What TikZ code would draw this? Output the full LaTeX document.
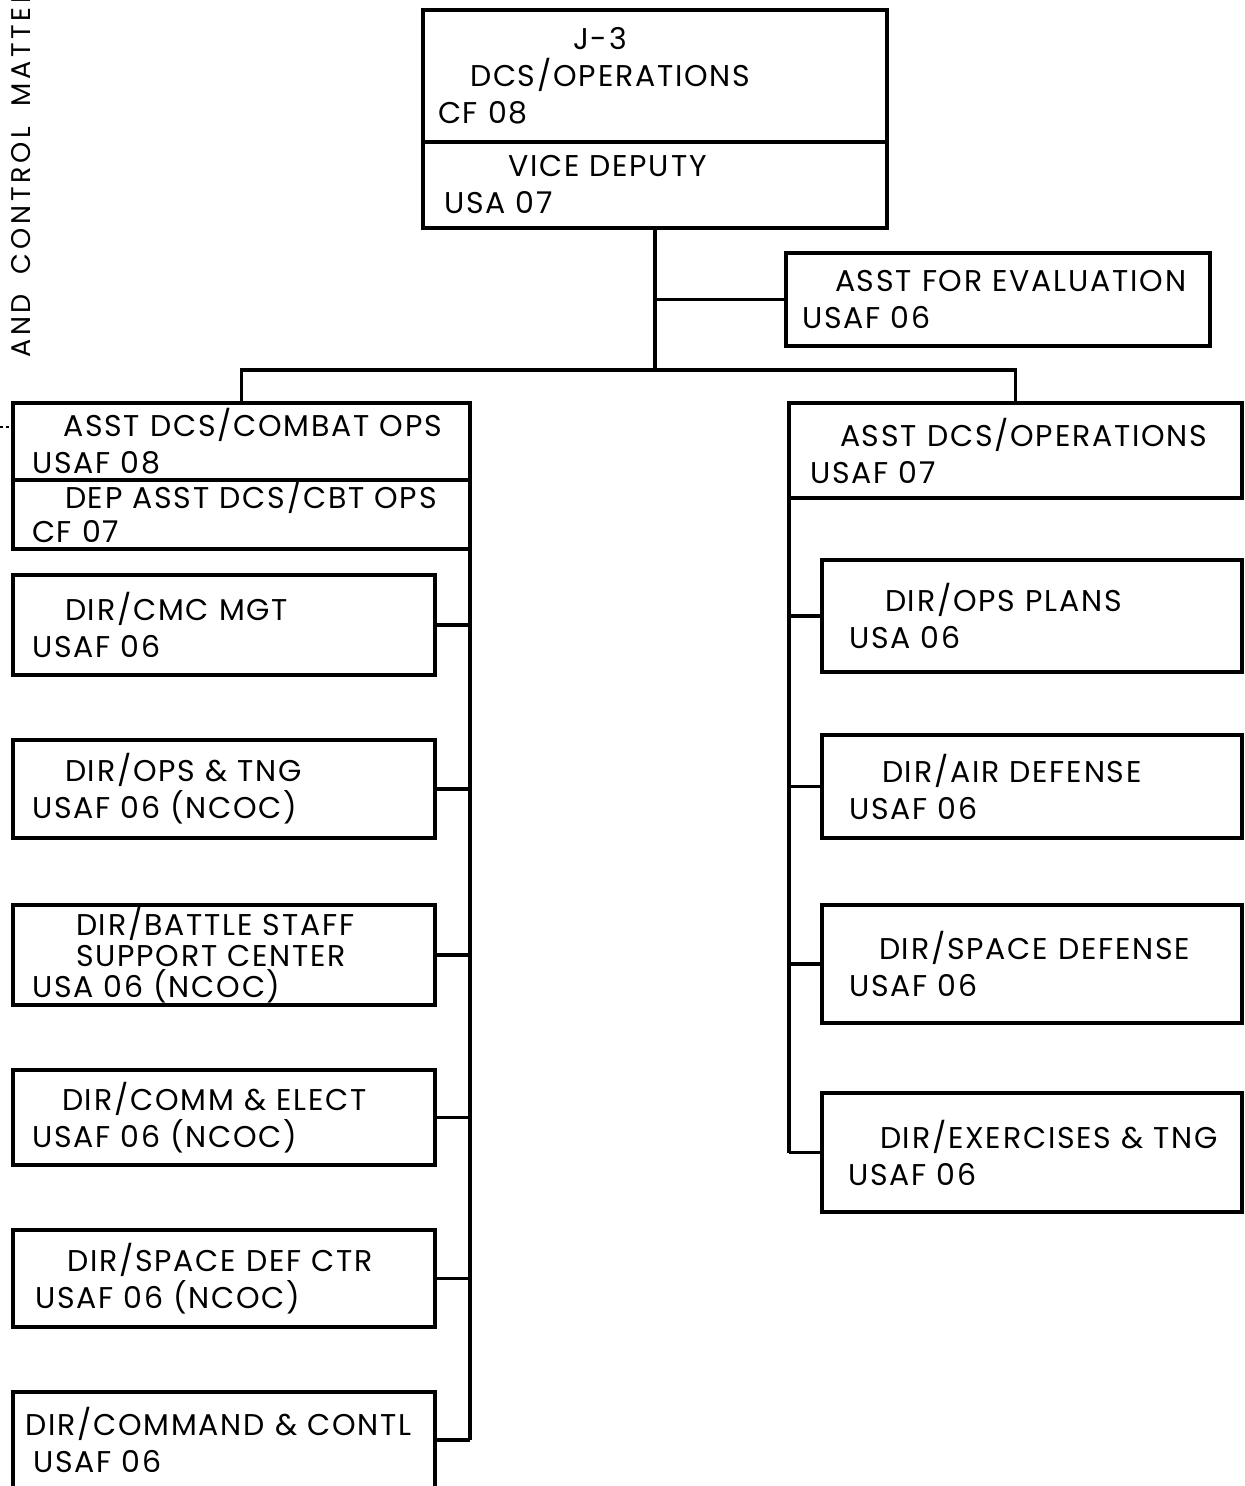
\documentclass[tikz,border=0pt]{standalone}
\usepackage{fontspec}
\newfontfamily\poppins{Poppins}[LetterSpace=6, WordSpace=1.4]
\newfontfamily\marginfont{Poppins}[LetterSpace=14, WordSpace=1.8]
\newcommand\chartfont{\poppins\fontsize{30}{37}\selectfont}

\begin{document}
\begin{tikzpicture}[x=1pt,y=-1pt,
  unit/.style={draw, line width=3.5pt, rectangle, anchor=north west, align=left,
    inner xsep=19pt, inner ysep=0pt, outer sep=0pt, font=\chartfont},
  link/.style={line width=3.5pt}]
  \useasboundingbox (0,0) rectangle (1245,1486);
  \clip (0,0) rectangle (1245,1486);
  % note running up the margin
  \node[rotate=90, anchor=base west, inner sep=0pt,
        font=\marginfont\fontsize{27}{30}\selectfont] (margin) at (30,358) {AND CONTROL MATTERS};
  % head of the directorate
  \node[unit, text width=434pt, minimum height=132pt, inner xsep=15pt] (j3) at (423,10)
        {\hspace*{135pt}J-3\\\hspace*{32pt}DCS/OPERATIONS\\CF 08};
  \node[unit, text width=434pt, minimum height=86pt, inner xsep=15pt] (vice) at (j3.south west)
        {\hspace*{70pt}VICE DEPUTY\\\hspace*{6pt}USA 07};
  \node[unit, text width=392pt, minimum height=93pt, inner xsep=16pt] (eval) at (786,253)
        {\hspace*{33pt}ASST FOR EVALUATION\\USAF 06};
  % combat ops side
  \node[unit, text width=419pt, minimum height=77pt] (combat) at (13,403)
        {\hspace*{31pt}ASST DCS/COMBAT OPS\\USAF 08};
  \node[unit, text width=419pt, minimum height=69pt,
        font=\poppins\fontsize{30}{34}\selectfont] (depcbt) at (combat.south west)
        {\hspace*{33pt}DEP ASST DCS/CBT OPS\\CF 07\rule[-6pt]{0pt}{0pt}};
  \node[unit, text width=384pt, minimum height=100pt] (cmc) at (13,575)
        {\hspace*{33pt}DIR/CMC MGT\\USAF 06};
  \node[unit, text width=384pt, minimum height=98pt] (opstng) at (13,740)
        {\hspace*{33pt}DIR/OPS \& TNG\\USAF 06 (NCOC)};
  \node[unit, text width=384pt, minimum height=100pt,
        font=\poppins\fontsize{30}{31}\selectfont] (battle) at (13,905)
        {\hspace*{44pt}DIR/BATTLE STAFF\\\hspace*{44pt}SUPPORT CENTER\\USA 06 (NCOC)};
  \node[unit, text width=384pt, minimum height=95pt] (commel) at (13,1070)
        {\hspace*{30pt}DIR/COMM \& ELECT\\USAF 06 (NCOC)};
  \node[unit, text width=384pt, minimum height=97pt] (spdefctr) at (13,1230)
        {\hspace*{35pt}DIR/SPACE DEF CTR\\\hspace*{3pt}USAF 06 (NCOC)};
  \node[unit, text width=398pt, minimum height=96pt, inner xsep=12pt] (cmdctl) at (13,1392)
        {DIR/COMMAND \& CONTL\\\hspace*{8pt}USAF 06};
  % operations side
  \node[unit, text width=411pt, minimum height=95pt, inner xsep=21pt] (asstops) at (789,403)
        {\hspace*{30pt}ASST DCS/OPERATIONS\\USAF 07};
  \node[unit, text width=366pt, minimum height=112pt, inner xsep=27pt] (opsplans) at (822,560)
        {\hspace*{36pt}DIR/OPS PLANS\\USA 06};
  \node[unit, text width=366pt, minimum height=103pt, inner xsep=27pt] (airdef) at (822,735)
        {\hspace*{33pt}DIR/AIR DEFENSE\\USAF 06};
  \node[unit, text width=366pt, minimum height=118pt, inner xsep=27pt] (spacedef) at (822,905)
        {\hspace*{30pt}DIR/SPACE DEFENSE\\USAF 06};
  \node[unit, text width=394pt, minimum height=119pt, inner xsep=13pt] (exer) at (822,1093)
        {\hspace*{45pt}DIR/EXERCISES \& TNG\\\hspace*{13pt}USAF 06};
  % connecting lines
  \coordinate (bus) at (656,370);
  \coordinate (stub) at (0,427);
  \draw[link] (vice.south) -- (vice.south |- bus);
  \draw[link] (vice.south |- eval.west) -- (eval.west);
  \draw[link] (combat.north) |- (bus) -| (asstops.north);
  \draw[link] (depcbt.south east) -- (depcbt.south east |- cmdctl.east);
  \foreach \u in {cmc,opstng,battle,commel,spdefctr,cmdctl}
    \draw[link] (\u.east) -- (\u.east -| depcbt.east);
  \draw[link] (asstops.south west) -- (asstops.south west |- exer.west);
  \foreach \u in {opsplans,airdef,spacedef,exer}
    \draw[link] (\u.west) -- (\u.west -| asstops.west);
  \draw[dashed, line width=2.5pt] (stub) -- (stub -| combat.west);
\end{tikzpicture}
\end{document}
